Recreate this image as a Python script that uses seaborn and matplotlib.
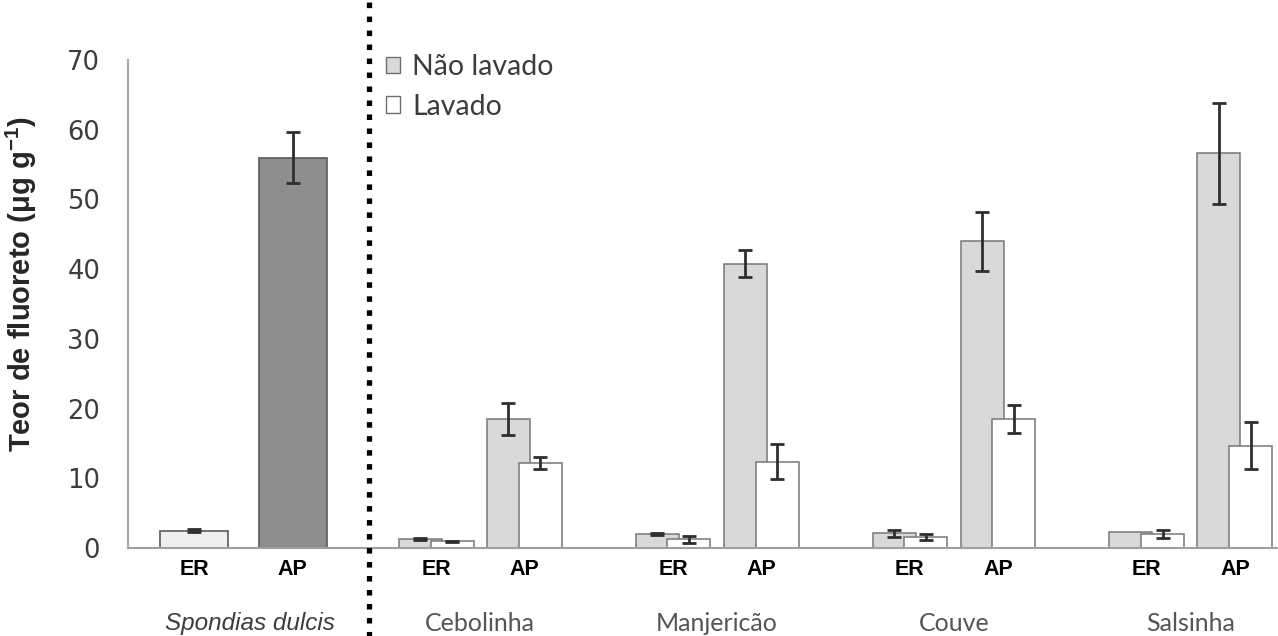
#!/usr/bin/env python3

import pandas as pd
import seaborn as sns
import matplotlib.pyplot as plt
from matplotlib.patches import Patch

# Vegetables, plant parts and washing treatments
groups = ["Cebolinha", "Manjericão", "Couve", "Salsinha"]
parts = ["ER", "AP"]
treatments = ["Não lavado", "Lavado"]

# Values per group in order ER, AP
nao_lavado_mean = [1.3, 18.5, 2.0, 40.8, 2.1, 44.0, 2.25, 56.6]
nao_lavado_err = [0.15, 2.3, 0.15, 1.9, 0.5, 4.2, 0.0, 7.2]
lavado_mean = [0.95, 12.2, 1.25, 12.4, 1.6, 18.5, 2.0, 14.7]
lavado_err = [0.1, 0.9, 0.5, 2.5, 0.4, 2.0, 0.6, 3.4]

# Reference plant (Spondias dulcis), ER and AP
spondias_label = "Spondias dulcis"
spondias_mean = [2.5, 56.0]
spondias_err = [0.2, 3.7]

y_ticks = [0, 10, 20, 30, 40, 50, 60, 70]
y_label = r"Teor de fluoreto (μg g$^{\mathbf{-1}}$)"

# layout (x units: one unit = distance ER -> AP inside a vegetable)
GROUP_STEP = 2.69
SP_START = -2.75
SP_STEP = 1.12
SEP_X = -0.76

NAO_COLOR = "#d9d9d9"
LAV_COLOR = "#ffffff"
SP_COLORS = ["#efefef", "#8e8e8e"]
EDGE = "#767676"
ERR_COLOR = "#2e2e2e"


def main():
    sns.set_style("white")
    plt.rcParams["font.family"] = ["DejaVu Sans"]
    plt.rcParams["mathtext.fontset"] = "custom"
    plt.rcParams["mathtext.rm"] = "Liberation Sans"
    plt.rcParams["mathtext.bf"] = "Liberation Sans:bold"

    fig = plt.figure(figsize=(12.78, 6.36), dpi=100)
    ax = fig.add_axes([128 / 1278, 88 / 636, 1150 / 1278, 488 / 636])

    # Build the vegetable data frame
    rows = []
    for gi, g in enumerate(groups):
        for pi, p in enumerate(parts):
            k = gi * 2 + pi
            pos = gi * GROUP_STEP + pi
            rows.append([g, p, treatments[0], pos, nao_lavado_mean[k], nao_lavado_err[k]])
            rows.append([g, p, treatments[1], pos, lavado_mean[k], lavado_err[k]])
    df = pd.DataFrame(rows, columns=["group", "part", "treatment", "pos", "mean", "err"])

    sp_pos = [SP_START + i * SP_STEP for i in range(len(parts))]
    dfsp = pd.DataFrame({"part": parts, "pos": sp_pos, "mean": spondias_mean, "err": spondias_err})

    sns.barplot(
        data=df, x="pos", y="mean", hue="treatment", hue_order=treatments,
        palette={treatments[0]: NAO_COLOR, treatments[1]: LAV_COLOR},
        native_scale=True, width=0.85, errorbar=None, legend=False,
        edgecolor=EDGE, linewidth=1.1, ax=ax,
    )
    veg_containers = list(ax.containers)

    # Excel-like overlap of the two bars of a pair
    for ci, cont in enumerate(veg_containers):
        for p in cont:
            w = p.get_width()
            nw = w * 1.15
            if ci == 1:
                p.set_x(p.get_x() + w - nw)
            p.set_width(nw)

    sns.barplot(
        data=dfsp, x="pos", y="mean", hue="part", hue_order=parts,
        palette=dict(zip(parts, SP_COLORS)), dodge=False,
        native_scale=True, width=0.69, errorbar=None, legend=False,
        edgecolor="#5a5a5a", linewidth=1.2, ax=ax,
    )

    # Error bars on top of the bars
    for t, cont in zip(treatments, veg_containers):
        sub = df[df.treatment == t].sort_values("pos")
        patches = sorted(cont, key=lambda p: p.get_x())
        for p, (_, r) in zip(patches, sub.iterrows()):
            if r["err"] <= 0:
                continue
            ax.errorbar(p.get_x() + p.get_width() / 2, r["mean"], yerr=r["err"],
                        fmt="none", ecolor=ERR_COLOR, elinewidth=2,
                        capsize=5, capthick=2, zorder=5)
    ax.errorbar(dfsp["pos"], dfsp["mean"], yerr=dfsp["err"], fmt="none",
                ecolor=ERR_COLOR, elinewidth=2, capsize=5, capthick=2, zorder=5)

    # Axes styling
    ax.set_ylim(0, 70)
    ax.set_yticks(y_ticks)
    ax.set_xlim(-3.5, 9.56)
    xt = sp_pos + sorted(df.pos.unique())
    ax.set_xticks(xt)
    ax.set_xticklabels(parts * (len(xt) // 2), fontsize=15.5, fontweight="bold",
                       family="Liberation Sans", color="black")
    ax.tick_params(axis="x", length=0, pad=8)
    ax.tick_params(axis="y", direction="in", length=7, width=1.2, color="#b5b5b5",
                   pad=20, labelsize=18.5, labelcolor="#3c3c3c")
    for side in ["top", "right"]:
        ax.spines[side].set_visible(False)
    ax.spines["left"].set_color("#a8a8a8")
    ax.spines["left"].set_linewidth(1.5)
    ax.spines["bottom"].set_color("#a0a0a0")
    ax.spines["bottom"].set_linewidth(1.5)

    ax.set_xlabel("")
    ax.set_ylabel(y_label, fontsize=21, fontweight="bold", family="Liberation Sans")
    ax.yaxis.set_label_coords(-0.077, 0.54)

    # Group labels under the ER/AP labels
    tr = ax.get_xaxis_transform()
    ax.text(sum(sp_pos) / len(sp_pos) + 0.08, -0.154, spondias_label, transform=tr,
            ha="center", va="center", fontsize=17.5, style="italic",
            family="Liberation Sans", color="#3c3c3c")
    for gi, g in enumerate(groups):
        ax.text(gi * GROUP_STEP + 0.5, -0.154, g, transform=tr, ha="center",
                va="center", fontsize=18, family="Lato", color="#555555")

    # Dotted separator running through the whole figure height
    ax.axvline(SEP_X, ymin=-0.19, ymax=1.13, clip_on=False, color="black",
               linewidth=3.8, dashes=(1.05, 1.6), zorder=6)

    handles = [
        Patch(facecolor=NAO_COLOR, edgecolor="#6e6e6e", linewidth=1.0),
        Patch(facecolor=LAV_COLOR, edgecolor="#6e6e6e", linewidth=1.0),
    ]
    fig.legend(handles, treatments, loc="upper left",
               bbox_to_anchor=(386 / 1278, 1 - 54 / 636), frameon=False,
               borderpad=0, borderaxespad=0, handlelength=0.5, handleheight=0.5,
               handletextpad=0.42, labelspacing=0.48,
               prop={"family": "Lato", "size": 20.5}, labelcolor="#3c3c3c")

    fig.savefig("out.png", dpi=100)


if __name__ == "__main__":
    main()
